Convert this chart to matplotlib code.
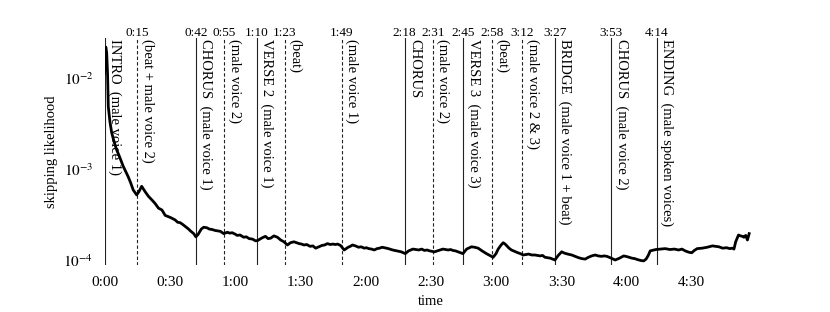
import numpy as np
import matplotlib
matplotlib.use("Agg")
import matplotlib.pyplot as plt

plt.rcParams["font.family"] = ["Liberation Serif", "DejaVu Serif"]
plt.rcParams["mathtext.fontset"] = "stix"

# curve: (time in seconds, log10 of skipping likelihood)
curve = [
    (0.0, -1.95), (0.3, -1.75), (0.6, -1.66), (1.0, -1.72), (1.4, -1.95), (1.75, -2.315),
    (2.5, -2.48), (3.3, -2.60), (4.4, -2.70), (5.6, -2.79), (7.0, -2.87), (8.6, -2.97),
    (9.8, -3.03), (10.9, -3.085), (12.0, -3.15), (13.2, -3.23), (14.8, -3.285),
    (15.8, -3.25), (17.1, -3.19), (18.7, -3.25), (20.2, -3.30), (21.8, -3.34),
    (23.3, -3.38), (24.8, -3.43), (26.4, -3.45), (27.9, -3.51), (29.0, -3.52),
    (30.5, -3.535), (32.5, -3.56), (33.6, -3.585), (34.8, -3.59), (36.0, -3.61),
    (37.1, -3.63), (38.4, -3.655), (39.5, -3.68), (41.0, -3.71), (42.0, -3.745),
    (43.0, -3.72), (44.5, -3.66), (45.6, -3.64), (47.0, -3.645), (48.2, -3.66),
    (49.5, -3.665), (50.8, -3.675), (52.0, -3.68), (53.3, -3.685), (54.8, -3.71),
    (56.5, -3.695), (57.6, -3.705), (58.7, -3.70), (60.0, -3.715), (61.0, -3.73),
    (62.3, -3.725), (64.0, -3.75), (65.2, -3.745), (66.5, -3.765), (68.0, -3.77),
    (69.5, -3.79), (70.5, -3.785), (71.5, -3.77), (72.6, -3.755), (74.0, -3.74),
    (75.2, -3.765), (76.4, -3.76), (77.9, -3.735), (79.5, -3.75), (81.0, -3.78),
    (82.5, -3.80), (84.1, -3.835), (85.5, -3.81), (87.1, -3.80), (88.3, -3.81),
    (89.5, -3.82), (90.6, -3.825), (91.7, -3.835), (93.0, -3.83), (94.5, -3.85),
    (95.8, -3.845), (97.1, -3.87), (98.5, -3.855), (100.0, -3.84), (101.2, -3.835),
    (102.5, -3.82), (103.8, -3.83), (105.0, -3.825), (106.2, -3.83), (107.2, -3.825),
    (108.5, -3.84), (110.2, -3.89), (112.0, -3.86), (113.0, -3.85), (114.0, -3.835),
    (115.4, -3.845), (116.8, -3.86), (118.0, -3.855), (119.4, -3.87), (120.4, -3.865),
    (121.5, -3.875), (122.8, -3.88), (124.0, -3.89), (125.3, -3.875), (126.5, -3.87),
    (127.6, -3.86), (128.7, -3.865), (130.5, -3.875), (132.5, -3.89), (134.5, -3.90),
    (136.4, -3.91), (138.3, -3.93), (139.8, -3.90), (141.8, -3.88), (143.2, -3.885),
    (144.5, -3.89), (145.8, -3.88), (147.1, -3.895), (148.3, -3.89), (149.5, -3.90),
    (150.6, -3.905), (151.7, -3.91), (153.6, -3.895), (155.6, -3.88), (156.8, -3.885),
    (158.0, -3.89), (159.1, -3.885), (160.2, -3.895), (161.4, -3.90), (162.5, -3.91),
    (163.6, -3.92), (164.8, -3.93), (166.5, -3.88), (168.7, -3.855), (170.2, -3.86),
    (171.8, -3.87), (173.6, -3.90), (175.6, -3.93), (177.2, -3.95), (178.7, -3.97),
    (180.0, -3.93), (181.0, -3.88), (182.2, -3.84), (183.3, -3.81), (184.2, -3.825),
    (185.0, -3.845), (186.0, -3.87), (187.1, -3.89), (188.5, -3.905), (190.0, -3.92),
    (191.2, -3.93), (192.5, -3.945), (193.8, -3.94), (195.0, -3.935), (196.5, -3.945),
    (197.9, -3.945), (199.0, -3.95), (200.3, -3.955), (201.4, -3.95), (202.5, -3.97),
    (203.8, -3.975), (205.0, -3.98), (206.0, -3.99), (207.1, -4.00), (208.6, -3.95),
    (210.2, -3.91), (211.5, -3.925), (213.0, -3.935), (214.8, -3.945), (216.4, -3.96),
    (218.0, -3.975), (219.5, -3.985), (221.0, -3.99), (222.5, -3.97), (224.0, -3.955),
    (225.6, -3.945), (227.0, -3.955), (228.5, -3.96), (229.8, -3.955), (231.0, -3.96),
    (233.0, -3.98), (234.8, -4.00), (236.8, -3.98), (238.7, -3.955), (240.5, -3.965),
    (242.5, -3.98), (243.8, -3.985), (245.0, -3.995), (246.5, -4.005), (247.9, -4.01),
    (249.0, -3.99), (250.0, -3.95), (250.9, -3.90), (251.7, -3.895), (253.5, -3.885),
    (255.6, -3.88), (257.8, -3.875), (260.0, -3.885), (262.0, -3.88), (264.0, -3.89),
    (265.5, -3.88), (267.0, -3.90), (268.7, -3.915), (270.0, -3.92), (271.2, -3.895),
    (272.5, -3.875), (274.8, -3.87), (277.1, -3.86), (279.5, -3.845), (282.5, -3.855),
    (284.2, -3.87), (286.0, -3.865), (287.5, -3.875), (288.6, -3.87), (289.4, -3.88),
    (290.2, -3.80), (291.5, -3.725), (292.4, -3.735), (293.3, -3.74), (294.0, -3.75),
    (294.8, -3.73), (295.6, -3.78), (296.4, -3.71),
]

# song structure
sec_time = [0, 15, 42, 55, 70, 83, 109, 138, 151, 165, 178, 192, 207, 233, 254]
sec_stamp = ["", "0:15", "0:42", "0:55", "1:10", "1:23", "1:49", "2:18", "2:31",
             "2:45", "2:58", "3:12", "3:27", "3:53", "4:14"]
sec_label = ["INTRO  (male voice 1)", "(beat + male voice 2)", "CHORUS  (male voice 1)",
             "(male voice 2)", "VERSE 2  (male voice 1)", "(beat)", "(male voice 1)",
             "CHORUS", "(male voice 2)", "VERSE 3  (male voice 3)", "(beat)",
             "(male voice 2 & 3)", "BRIDGE  (male voice 1 + beat)",
             "CHORUS  (male voice 2)", "ENDING  (male spoken voices)"]
sec_main = [True, False, True, False, True, False, False, True, False, True, False,
            False, True, True, True]

x_ticks = [0, 30, 60, 90, 120, 150, 180, 210, 240, 270]
x_ticklabels = ["0:00", "0:30", "1:00", "1:30", "2:00", "2:30", "3:00", "3:30", "4:00", "4:30"]

fig = plt.figure(figsize=(8.3, 3.12), dpi=100)
ax = fig.add_axes([104.5 / 830, 1 - 265 / 312, 300 * 2.175 / 830, (265 - 38) / 312])

t_sec = np.array([p[0] for p in curve])
skip = 10.0 ** np.array([p[1] for p in curve])
ax.set_yscale("log")
ax.set_xlim(0, 300)
ax.set_ylim(10 ** -4.055, 10 ** -1.56)

for t, stamp, lab, main in zip(sec_time, sec_stamp, sec_label, sec_main):
    if main:
        ax.axvline(t, color="#222222", lw=0.8, zorder=1)
    else:
        ax.axvline(t, color="#222222", lw=0.8, ls=(0, (3, 2)), zorder=1)
    if stamp:
        ax.text(t, 0.996, stamp, transform=ax.get_xaxis_transform(), ha="center",
                va="bottom", fontsize=9.5)
    ax.text(t + 1.6, 0.995, lab, transform=ax.get_xaxis_transform(), rotation=-90,
            ha="left", va="top", fontsize=10.5)

ax.plot(t_sec, skip, color="black", lw=2, zorder=3)

for s in ax.spines.values():
    s.set_visible(False)
ax.set_xticks(x_ticks)
ax.set_xticklabels(x_ticklabels)
ax.set_yticks([1e-4, 1e-3, 1e-2])
ax.set_yticklabels([r"$10^{-4}$", r"$10^{-3}$", r"$10^{-2}$"])
ax.minorticks_off()
ax.tick_params(axis="x", length=0, labelsize=11, pad=8)
ax.tick_params(axis="y", length=0, labelsize=11, pad=8)
ax.set_xlabel("time", fontsize=10.5, labelpad=4)
ax.set_ylabel("skipping likelihood", fontsize=10.5, labelpad=4)

fig.savefig("out.png", dpi=100)
